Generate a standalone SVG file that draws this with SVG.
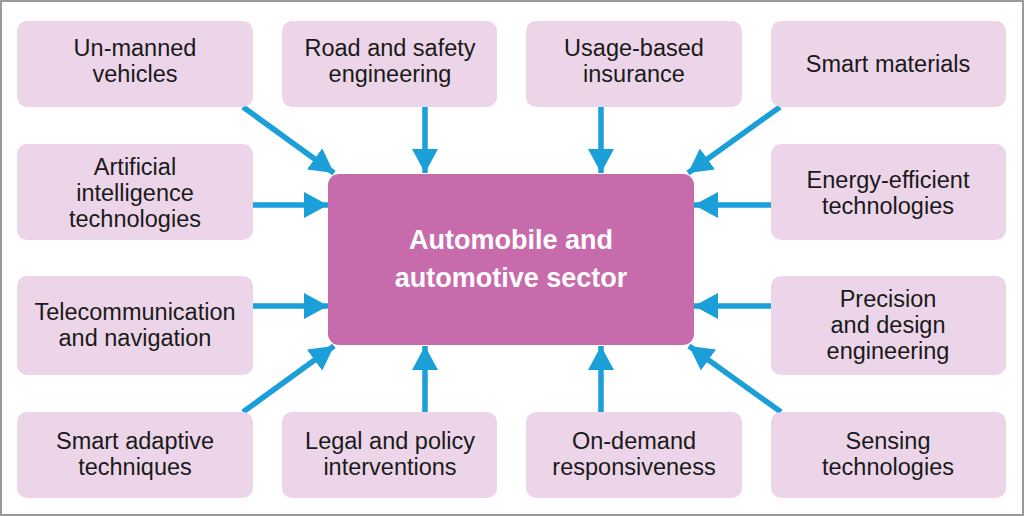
<svg xmlns="http://www.w3.org/2000/svg" width="1024" height="516" viewBox="0 0 1024 516">
<style>
.box{fill:#ECD5E8;}
.t{font-family:"Liberation Sans",Arial,sans-serif;font-size:23.5px;fill:#1a1a1a;text-anchor:middle;}
.c{font-family:"Liberation Sans",Arial,sans-serif;font-size:27px;font-weight:bold;fill:#ffffff;text-anchor:middle;}
.a{stroke:#1A9FD9;stroke-width:5.5;fill:none;marker-end:url(#ah);}
</style>
<defs>
<marker id="ah" markerUnits="userSpaceOnUse" markerWidth="26" markerHeight="26" viewBox="0 0 26 26" refX="24" refY="13" orient="auto">
<path d="M0,0 L24,13 L0,26 Z" fill="#1A9FD9"/>
</marker>
</defs>
<rect x="1" y="1" width="1022" height="514" fill="#ffffff" stroke="#9a9a9a" stroke-width="2"/>
<g id="connectors">
<line class="a" x1="243" y1="107" x2="334" y2="173"/>
<line class="a" x1="425" y1="107" x2="425" y2="173"/>
<line class="a" x1="601" y1="107" x2="601" y2="173"/>
<line class="a" x1="780" y1="107" x2="688" y2="173"/>
<line class="a" x1="253" y1="205" x2="328" y2="205"/>
<line class="a" x1="771" y1="205" x2="694" y2="205"/>
<line class="a" x1="253" y1="306" x2="328" y2="306"/>
<line class="a" x1="771" y1="306" x2="694" y2="306"/>
<line class="a" x1="243" y1="412" x2="334" y2="346"/>
<line class="a" x1="425" y1="412" x2="425" y2="346"/>
<line class="a" x1="601" y1="412" x2="601" y2="346"/>
<line class="a" x1="781" y1="412" x2="689" y2="346"/>
</g>
<g id="center">
<rect x="328" y="174" width="366" height="171" rx="11" fill="#C76BAC"/>
<text class="c" x="511" y="249">Automobile and</text>
<text class="c" x="511" y="287">automotive sector</text>
</g>
<g id="n1"><rect class="box" x="17" y="21" width="236" height="86" rx="10"/><text class="t" x="135" y="56">Un-manned</text><text class="t" x="135" y="82">vehicles</text></g>
<g id="n2"><rect class="box" x="282" y="21" width="215" height="86" rx="10"/><text class="t" x="390" y="56">Road and safety</text><text class="t" x="390" y="82">engineering</text></g>
<g id="n3"><rect class="box" x="526" y="21" width="216" height="86" rx="10"/><text class="t" x="634" y="56">Usage-based</text><text class="t" x="634" y="82">insurance</text></g>
<g id="n4"><rect class="box" x="771" y="21" width="235" height="86" rx="10"/><text class="t" x="888" y="72">Smart materials</text></g>
<g id="n5"><rect class="box" x="17" y="144" width="236" height="96" rx="10"/><text class="t" x="135" y="175">Artificial</text><text class="t" x="135" y="201">intelligence</text><text class="t" x="135" y="227">technologies</text></g>
<g id="n6"><rect class="box" x="771" y="144" width="235" height="96" rx="10"/><text class="t" x="888" y="188">Energy-efficient</text><text class="t" x="888" y="214">technologies</text></g>
<g id="n7"><rect class="box" x="17" y="276" width="236" height="99" rx="10"/><text class="t" x="135" y="320">Telecommunication</text><text class="t" x="135" y="346">and navigation</text></g>
<g id="n8"><rect class="box" x="771" y="276" width="235" height="99" rx="10"/><text class="t" x="888" y="307">Precision</text><text class="t" x="888" y="333">and design</text><text class="t" x="888" y="359">engineering</text></g>
<g id="n9"><rect class="box" x="17" y="412" width="236" height="86" rx="10"/><text class="t" x="135" y="449">Smart adaptive</text><text class="t" x="135" y="475">techniques</text></g>
<g id="n10"><rect class="box" x="282" y="412" width="215" height="86" rx="10"/><text class="t" x="390" y="449">Legal and policy</text><text class="t" x="390" y="475">interventions</text></g>
<g id="n11"><rect class="box" x="526" y="412" width="216" height="86" rx="10"/><text class="t" x="634" y="449">On-demand</text><text class="t" x="634" y="475">responsiveness</text></g>
<g id="n12"><rect class="box" x="771" y="412" width="235" height="86" rx="10"/><text class="t" x="888" y="449">Sensing</text><text class="t" x="888" y="475">technologies</text></g>
</svg>
